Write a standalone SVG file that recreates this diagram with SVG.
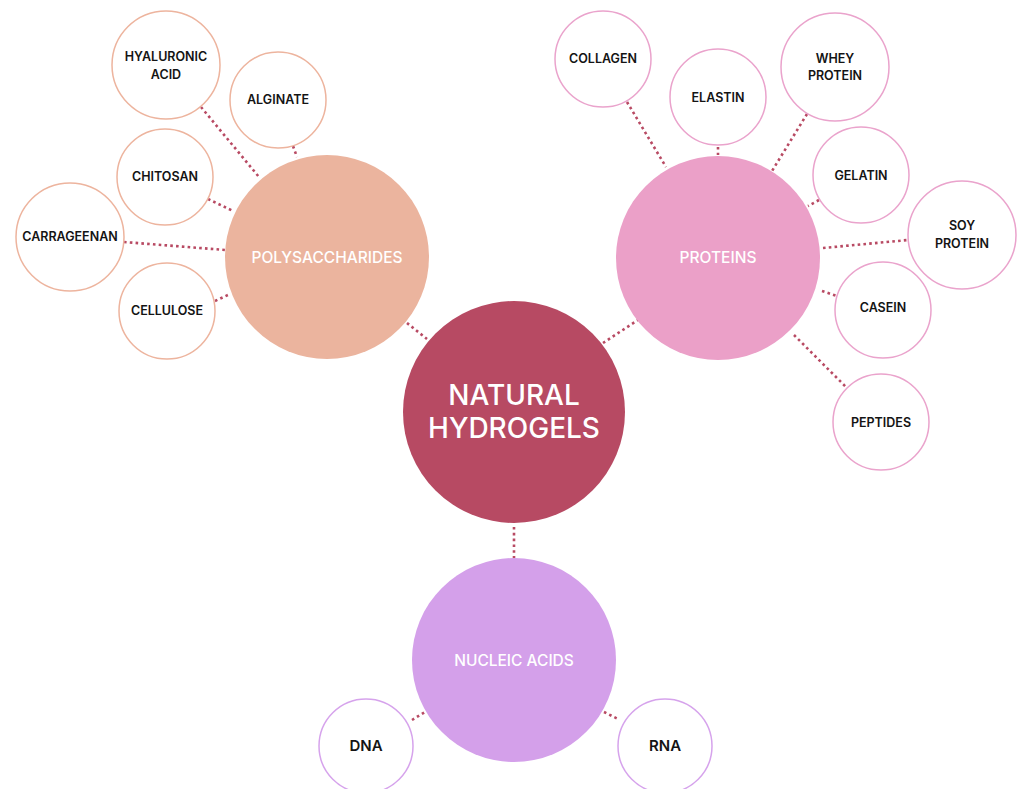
<svg xmlns="http://www.w3.org/2000/svg" width="1017" height="789" viewBox="0 0 1017 789">
<style>
.bg{fill:#ffffff}
.conn line{stroke:#B84A63;stroke-width:2.6;stroke-dasharray:2.6 3.2;fill:none}
.leaf{fill:#ffffff;stroke-width:1.5}
.p{stroke:#EDB49E}
.r{stroke:#EAA3CC}
.n{stroke:#D6A3EC}
.lt{font-family:Inter,"Liberation Sans",sans-serif;font-weight:600;font-size:12.5px;fill:#141414;text-anchor:middle}
.ht{font-family:Inter,"Liberation Sans",sans-serif;font-weight:500;font-size:15.5px;fill:#ffffff;text-anchor:middle}
.ct{font-family:Inter,"Liberation Sans",sans-serif;font-weight:500;font-size:28px;fill:#ffffff;text-anchor:middle}
</style>
<rect class="bg" x="0" y="0" width="1017" height="789"/>
<g id="connectors" class="conn">
<line x1="201" y1="107" x2="259" y2="177"/>
<line x1="293" y1="146" x2="297" y2="157"/>
<line x1="208" y1="199" x2="233" y2="211"/>
<line x1="124" y1="242" x2="225" y2="250"/>
<line x1="215" y1="301" x2="230" y2="294"/>
<line x1="407" y1="323" x2="427" y2="339"/>
<line x1="603" y1="343" x2="638" y2="320"/>
<line x1="514" y1="527" x2="514" y2="558"/>
<line x1="627" y1="102" x2="666" y2="167"/>
<line x1="718" y1="147" x2="718" y2="155"/>
<line x1="807" y1="114" x2="772" y2="171"/>
<line x1="819" y1="200" x2="808" y2="206"/>
<line x1="823" y1="248" x2="908" y2="240"/>
<line x1="822" y1="291" x2="837" y2="296"/>
<line x1="794" y1="335" x2="847" y2="388"/>
<line x1="412" y1="720" x2="425" y2="712"/>
<line x1="604" y1="712" x2="618" y2="719"/>
</g>
<g id="natural-hydrogels">
<circle cx="514" cy="412" r="111" fill="#B74A63"/>
<text class="ct" x="514" y="405">NATURAL</text>
<text class="ct" x="514" y="438">HYDROGELS</text>
</g>
<g id="polysaccharides">
<circle cx="327" cy="257" r="102" fill="#EBB49E"/>
<text class="ht" x="327" y="263">POLYSACCHARIDES</text>
</g>
<g id="proteins">
<circle cx="718" cy="258" r="102" fill="#EBA0C8"/>
<text class="ht" x="718" y="263">PROTEINS</text>
</g>
<g id="nucleic-acids">
<circle cx="514" cy="660" r="102" fill="#D4A0EA"/>
<text class="ht" x="514" y="666">NUCLEIC ACIDS</text>
</g>
<g id="hyaluronic-acid">
<circle class="leaf p" cx="166" cy="65" r="54"/>
<text class="lt" x="166" y="61">HYALURONIC</text>
<text class="lt" x="166" y="79">ACID</text>
</g>
<g id="alginate">
<circle class="leaf p" cx="278" cy="100" r="48"/>
<text class="lt" x="278" y="104">ALGINATE</text>
</g>
<g id="chitosan">
<circle class="leaf p" cx="165" cy="177" r="48"/>
<text class="lt" x="165" y="181">CHITOSAN</text>
</g>
<g id="carrageenan">
<circle class="leaf p" cx="70" cy="237" r="54"/>
<text class="lt" x="70" y="241">CARRAGEENAN</text>
</g>
<g id="cellulose">
<circle class="leaf p" cx="167" cy="311" r="48"/>
<text class="lt" x="167" y="315">CELLULOSE</text>
</g>
<g id="collagen">
<circle class="leaf r" cx="603" cy="59" r="48"/>
<text class="lt" x="603" y="63">COLLAGEN</text>
</g>
<g id="elastin">
<circle class="leaf r" cx="718" cy="97" r="48"/>
<text class="lt" x="718" y="102">ELASTIN</text>
</g>
<g id="whey-protein">
<circle class="leaf r" cx="835" cy="67" r="54"/>
<text class="lt" x="835" y="63">WHEY</text>
<text class="lt" x="835" y="80">PROTEIN</text>
</g>
<g id="gelatin">
<circle class="leaf r" cx="861" cy="175" r="48"/>
<text class="lt" x="861" y="180">GELATIN</text>
</g>
<g id="soy-protein">
<circle class="leaf r" cx="962" cy="235" r="54"/>
<text class="lt" x="962" y="230">SOY</text>
<text class="lt" x="962" y="248">PROTEIN</text>
</g>
<g id="casein">
<circle class="leaf r" cx="883" cy="310" r="48"/>
<text class="lt" x="883" y="312">CASEIN</text>
</g>
<g id="peptides">
<circle class="leaf r" cx="881" cy="422" r="48"/>
<text class="lt" x="881" y="427">PEPTIDES</text>
</g>
<g id="dna">
<circle class="leaf n" cx="366" cy="746" r="47"/>
<text class="lt" x="366" y="751" style="font-size:15px">DNA</text>
</g>
<g id="rna">
<circle class="leaf n" cx="665" cy="746" r="47"/>
<text class="lt" x="665" y="751" style="font-size:15px">RNA</text>
</g>
</svg>
